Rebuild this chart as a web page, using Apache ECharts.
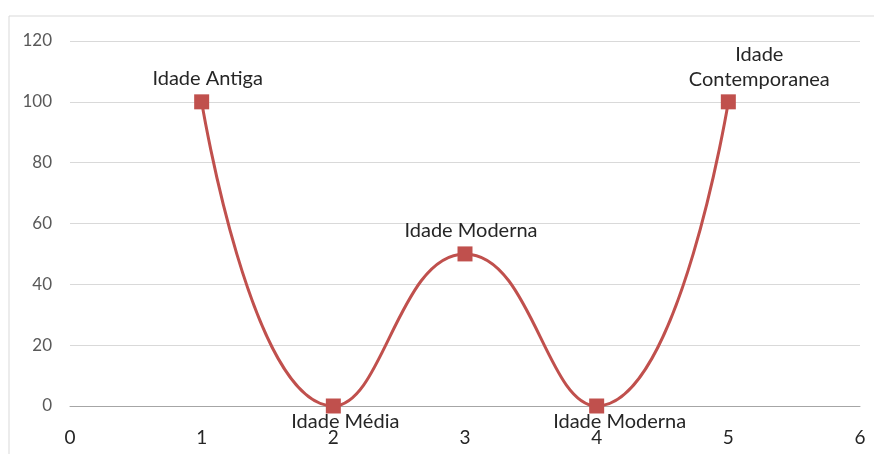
<!DOCTYPE html>
<html lang="pt">
<head>
  <meta charset="UTF-8">
  <script src="https://cdn.jsdelivr.net/npm/echarts@6/dist/echarts.min.js"></script>
  <style>
    body { margin: 0; background: #fff; }
    #container { width: 874px; height: 454px; }
  </style>
</head>
<body>
  <div id="container"></div>
  <script>
    var xValues = [1, 2, 3, 4, 5];
    var yValues = [100, 0, 50, 0, 100];
    var pointNames = ['Idade Antiga', 'Idade Média', 'Idade Moderna', 'Idade Moderna', 'Idade\nContemporanea'];
    // posição do rótulo de cada ponto
    var labelPos = ['top', 'bottom', 'top', 'bottom', 'top'];
    var labelShift = [[6, 2], [12, -9], [6, 2], [23, -9], [31, 3]];

    var myChart = echarts.init(document.getElementById('container'));

    var data = [];
    for (var i = 0; i < xValues.length; i++) {
      data.push({
        value: [xValues[i], yValues[i]],
        name: pointNames[i],
        label: { position: labelPos[i], offset: labelShift[i] }
      });
    }

    var option = {
      animation: false,
      textStyle: { fontFamily: 'Lato' },
      graphic: [{
        type: 'rect',
        shape: { x: 9, y: 16, width: 900, height: 500 },
        style: { fill: 'none', stroke: '#d9d9d9', lineWidth: 1 },
        silent: true
      }],
      grid: { left: 70, right: 14, top: 41, bottom: 48 },
      xAxis: {
        type: 'value',
        min: 0,
        max: 6,
        interval: 1,
        axisLine: { show: true, lineStyle: { color: '#a6a6a6' } },
        axisTick: { show: false },
        splitLine: { show: false },
        axisLabel: { color: '#262626', fontSize: 19, margin: 22 }
      },
      yAxis: {
        type: 'value',
        min: 0,
        max: 120,
        interval: 20,
        axisLine: { show: false },
        axisTick: { show: false },
        splitLine: { lineStyle: { color: '#d9d9d9' } },
        axisLabel: { color: '#595959', fontSize: 17, margin: 18 }
      },
      series: [{
        type: 'line',
        data: data,
        smooth: 0.5,
        symbol: 'rect',
        symbolSize: 15,
        lineStyle: { color: '#c0504d', width: 3 },
        itemStyle: { color: '#c0504d' },
        label: {
          show: true,
          color: '#262626',
          fontSize: 20,
          lineHeight: 25,
          formatter: function (p) { return p.name; }
        }
      }]
    };
    myChart.setOption(option);
  </script>
</body>
</html>
